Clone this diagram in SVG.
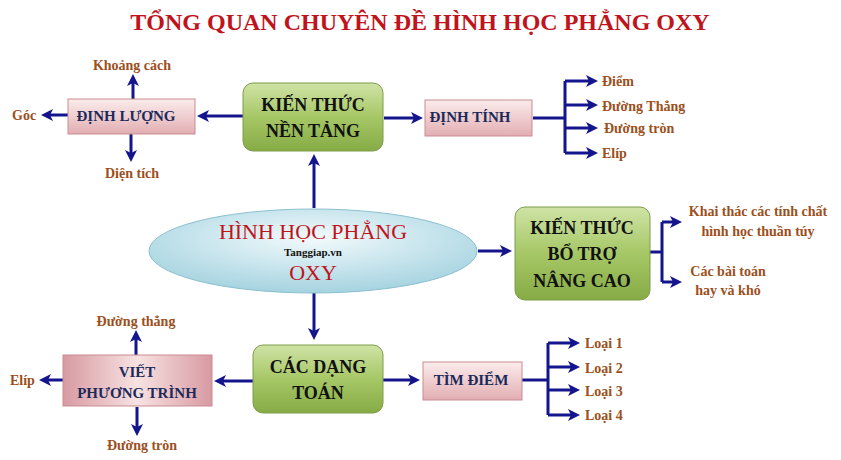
<svg xmlns="http://www.w3.org/2000/svg" width="841" height="460" viewBox="0 0 841 460">
<defs>
<linearGradient id="gg" x1="0" y1="0" x2="0" y2="1"><stop offset="0" stop-color="#cfe3a6"/><stop offset="0.5" stop-color="#a6c766"/><stop offset="1" stop-color="#86ab45"/></linearGradient>
<linearGradient id="pg" x1="0" y1="0" x2="0" y2="1"><stop offset="0" stop-color="#fbecec"/><stop offset="1" stop-color="#e2aeb2"/></linearGradient>
<linearGradient id="pg2" x1="0" y1="0" x2="1" y2="0"><stop offset="0" stop-color="#d89aa2"/><stop offset="0.5" stop-color="#f7e2e2"/><stop offset="1" stop-color="#d89aa2"/></linearGradient>
<radialGradient id="eg" cx="0.5" cy="0.35" r="0.7"><stop offset="0" stop-color="#f2fafc"/><stop offset="1" stop-color="#9fd0de"/></radialGradient>
<marker id="ah" markerWidth="4" markerHeight="4" refX="2" refY="2" orient="auto" markerUnits="strokeWidth"><path d="M0,0 L4,2 L0,4 L1,2 Z" fill="#14148c"/></marker>
</defs>
<style>
.c line,.c path{stroke:#14148c;stroke-width:3;fill:none}
.a{marker-end:url(#ah)}
.g{fill:url(#gg);stroke:#7e9c4a;stroke-width:1}
.p{fill:url(#pg);stroke:#c98b92;stroke-width:1}
text{font-family:"Liberation Serif",serif;font-weight:bold}
.bt{font-size:18px;fill:#111;text-anchor:middle}
.pt{font-size:15px;fill:#1c2a5a;text-anchor:middle}
.l{font-size:14px;fill:#9c4f1c}
.m{text-anchor:middle}
.et{font-size:22px;fill:#c0141c;text-anchor:middle;font-weight:normal}
</style>
<rect width="841" height="460" fill="#fff"/>
<text x="420" y="30" font-size="24" fill="#c0141c" text-anchor="middle">TỔNG QUAN CHUYÊN ĐỀ HÌNH HỌC PHẲNG OXY</text>
<g class="c">
<line class="a" x1="243" y1="116" x2="203" y2="116"/>
<line class="a" x1="384" y1="118" x2="417" y2="118"/>
<line class="a" x1="133" y1="99" x2="133" y2="80"/>
<line class="a" x1="68" y1="115" x2="47" y2="115"/>
<line class="a" x1="131" y1="134" x2="131" y2="156"/>
<path d="M533,118 H565 M565,81 V153"/>
<line class="a" x1="565" y1="81" x2="592" y2="81"/>
<line class="a" x1="565" y1="105" x2="592" y2="105"/>
<line class="a" x1="565" y1="128" x2="592" y2="128"/>
<line class="a" x1="565" y1="153" x2="592" y2="153"/>
<line class="a" x1="314" y1="208" x2="314" y2="160"/>
<line class="a" x1="478" y1="251" x2="506" y2="251"/>
<path d="M650,252 H662 M662,222 V282"/>
<line class="a" x1="662" y1="222" x2="676" y2="222"/>
<line class="a" x1="662" y1="282" x2="676" y2="282"/>
<line class="a" x1="314" y1="293" x2="314" y2="334"/>
<line class="a" x1="253" y1="381" x2="220" y2="381"/>
<line class="a" x1="136" y1="355" x2="136" y2="336"/>
<line class="a" x1="63" y1="380" x2="45" y2="380"/>
<line class="a" x1="137" y1="407" x2="137" y2="430"/>
<line class="a" x1="383" y1="380" x2="414" y2="380"/>
<path d="M522,380 H548 M548,343 V415"/>
<line class="a" x1="548" y1="343" x2="574" y2="343"/>
<line class="a" x1="548" y1="367" x2="574" y2="367"/>
<line class="a" x1="548" y1="390" x2="574" y2="390"/>
<line class="a" x1="548" y1="415" x2="574" y2="415"/>
</g>
<g id="kt-nen-tang"><rect class="g" x="243" y="83" width="140" height="68" rx="10"/><text class="bt" x="313" y="111">KIẾN THỨC</text><text class="bt" x="313" y="137">NỀN TẢNG</text></g>
<g id="dinh-luong"><rect class="p" x="68" y="99" width="127" height="35"/><text class="pt" x="126" y="121">ĐỊNH LƯỢNG</text></g>
<g id="dinh-tinh"><rect class="p" x="425" y="100" width="107" height="36"/><text class="pt" x="470" y="122">ĐỊNH TÍNH</text></g>
<g id="hinh-hoc"><ellipse cx="313" cy="251" rx="164" ry="42" fill="url(#eg)" stroke="#8cc0d0"/><text class="et" x="313" y="239">HÌNH HỌC PHẲNG</text><text class="et" x="313" y="280">OXY</text><text x="313" y="256" font-size="11" fill="#111" text-anchor="middle">Tanggiap.vn</text></g>
<g id="kt-bo-tro"><rect class="g" x="515" y="207" width="135" height="93" rx="10"/><text class="bt" x="582" y="234">KIẾN THỨC</text><text class="bt" x="582" y="260">BỔ TRỢ</text><text class="bt" x="582" y="287">NÂNG CAO</text></g>
<g id="cac-dang-toan"><rect class="g" x="253" y="345" width="130" height="68" rx="10"/><text class="bt" x="318" y="373">CÁC DẠNG</text><text class="bt" x="318" y="399">TOÁN</text></g>
<g id="viet-pt"><rect x="63" y="355" width="149" height="51" fill="url(#pg2)" stroke="#c98b92"/><text class="pt" x="137" y="377">VIẾT</text><text class="pt" x="137" y="398">PHƯƠNG TRÌNH</text></g>
<g id="tim-diem"><rect class="p" x="423" y="362" width="99" height="38"/><text class="pt" x="471" y="385">TÌM ĐIỂM</text></g>
<g id="labels">
<text class="l m" x="132" y="70">Khoảng cách</text>
<text class="l" x="12" y="120">Góc</text>
<text class="l m" x="132" y="178">Diện tích</text>
<text class="l" x="602" y="86">Điểm</text>
<text class="l" x="602" y="111">Đường Thẳng</text>
<text class="l" x="604" y="133">Đường tròn</text>
<text class="l" x="602" y="158">Elíp</text>
<text class="l m" x="758" y="216">Khai thác các tính chất</text>
<text class="l m" x="758" y="236">hình học thuần túy</text>
<text class="l m" x="728" y="276">Các bài toán</text>
<text class="l m" x="728" y="295">hay và khó</text>
<text class="l m" x="136" y="326">Đường thẳng</text>
<text class="l" x="10" y="385">Elíp</text>
<text class="l m" x="142" y="450">Đường tròn</text>
<text class="l" x="585" y="348">Loại 1</text>
<text class="l" x="585" y="373">Loại 2</text>
<text class="l" x="585" y="396">Loại 3</text>
<text class="l" x="585" y="420">Loại 4</text>
</g>
</svg>
